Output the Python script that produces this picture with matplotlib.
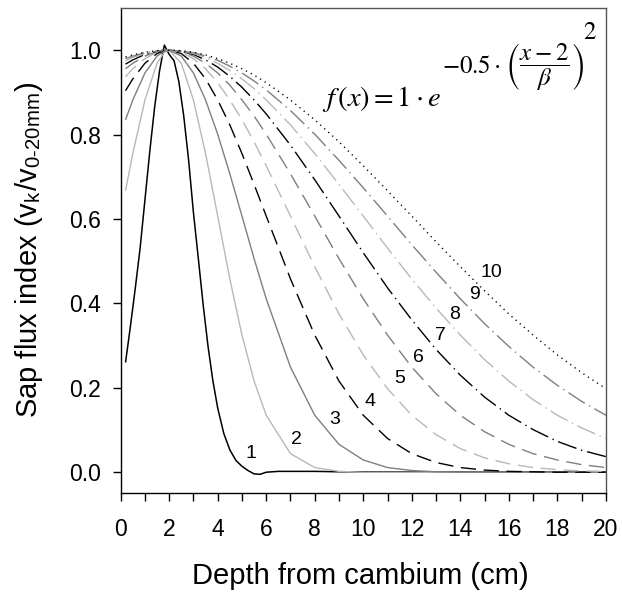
import matplotlib
matplotlib.use("Agg")
import matplotlib.pyplot as plt

plt.rcParams['font.family'] = ['Liberation Sans', 'DejaVu Sans']
plt.rcParams['mathtext.fontset'] = 'stix'
plt.rcParams['lines.scale_dashes'] = False

# Depth positions (cm) at which curves were read
depth = [0.2, 0.5, 1.0, 1.5, 1.8, 2.0, 2.5, 3.0, 3.5, 4.0, 4.5, 5.0, 5.5, 6.0,
         7, 8, 9, 10, 11, 12, 13, 14, 15, 16, 17, 18, 19, 20]
# Finer reading positions for the narrow curve (beta = 1)
depth_b1 = [0.2, 0.4, 0.6, 0.8, 1.0, 1.2, 1.4, 1.6, 1.8, 2.0, 2.2, 2.4, 2.6, 2.8, 3.0,
            3.2, 3.4, 3.6, 3.8, 4.0, 4.25, 4.5, 4.75, 5.0, 5.25, 5.5, 5.75, 6.0, 6.5,
            7, 8, 9, 10, 11, 12, 13, 14, 15, 16, 17, 18, 19, 20]

beta1 = [0.26, 0.345, 0.435, 0.53, 0.645, 0.76, 0.865, 0.95, 1.012, 0.99, 0.975, 0.925, 0.844, 0.74, 0.615,
         0.507, 0.397, 0.299, 0.217, 0.152, 0.092, 0.053, 0.028, 0.014, 0.004, -0.004, -0.005, 0.0, 0.002,
         0.002, 0.002, 0.001, 0.001, 0.001, 0.001, 0.001, 0.001, 0.001, 0.001, 0.001, 0.001, 0.001, 0.001]
beta2 = [0.667, 0.755, 0.882, 0.969, 0.995, 1.0, 0.969, 0.882, 0.755, 0.607, 0.458, 0.325, 0.216, 0.135,
         0.044, 0.011, 0.002, 0.0, 0.0, 0.0, 0.0, 0.0, 0.0, 0.0, 0.0, 0.0, 0.0, 0.0]
beta3 = [0.835, 0.882, 0.946, 0.986, 0.998, 1.0, 0.986, 0.946, 0.882, 0.801, 0.707, 0.607, 0.506, 0.411,
         0.249, 0.135, 0.066, 0.029, 0.011, 0.004, 0.001, 0.0, 0.0, 0.0, 0.0, 0.0, 0.0, 0.0]
beta4 = [0.904, 0.932, 0.969, 0.992, 0.999, 1.0, 0.992, 0.969, 0.932, 0.882, 0.823, 0.755, 0.682, 0.607,
         0.458, 0.325, 0.216, 0.135, 0.080, 0.044, 0.023, 0.011, 0.005, 0.002, 0.001, 0.0, 0.0, 0.0]
beta5 = [0.937, 0.956, 0.980, 0.995, 0.999, 1.0, 0.995, 0.980, 0.956, 0.923, 0.882, 0.835, 0.783, 0.726,
         0.607, 0.487, 0.375, 0.278, 0.198, 0.135, 0.089, 0.056, 0.034, 0.020, 0.011, 0.006, 0.003, 0.002]
beta6 = [0.956, 0.969, 0.986, 0.997, 0.999, 1.0, 0.997, 0.986, 0.969, 0.946, 0.917, 0.882, 0.844, 0.801,
         0.707, 0.607, 0.506, 0.411, 0.325, 0.249, 0.186, 0.135, 0.096, 0.066, 0.044, 0.029, 0.018, 0.011]
beta7 = [0.967, 0.977, 0.990, 0.997, 1.0, 1.0, 0.997, 0.990, 0.977, 0.960, 0.938, 0.912, 0.882, 0.849,
         0.775, 0.693, 0.607, 0.520, 0.437, 0.361, 0.291, 0.230, 0.178, 0.135, 0.101, 0.073, 0.052, 0.037]
beta8 = [0.975, 0.983, 0.992, 0.998, 1.0, 1.0, 0.998, 0.992, 0.983, 0.969, 0.952, 0.932, 0.909, 0.882,
         0.823, 0.755, 0.682, 0.607, 0.531, 0.458, 0.389, 0.325, 0.267, 0.216, 0.172, 0.135, 0.105, 0.080]
beta9 = [0.980, 0.986, 0.994, 0.998, 1.0, 1.0, 0.998, 0.994, 0.986, 0.976, 0.962, 0.946, 0.927, 0.906,
         0.857, 0.801, 0.739, 0.674, 0.607, 0.539, 0.474, 0.411, 0.352, 0.298, 0.249, 0.206, 0.168, 0.135]
beta10 = [0.984, 0.989, 0.995, 0.999, 1.0, 1.0, 0.999, 0.995, 0.989, 0.980, 0.969, 0.956, 0.941, 0.923,
          0.882, 0.835, 0.783, 0.726, 0.667, 0.607, 0.546, 0.487, 0.430, 0.375, 0.325, 0.278, 0.236, 0.198]

series = [beta1, beta2, beta3, beta4, beta5, beta6, beta7, beta8, beta9, beta10]
series_x = [depth_b1] + [depth] * 9
curve_labels = ['1', '2', '3', '4', '5', '6', '7', '8', '9', '10']
label_x = [5.36, 7.25, 8.83, 10.27, 11.51, 12.29, 13.18, 13.75, 14.57, 15.29]
label_y = [0.044, 0.078, 0.124, 0.167, 0.222, 0.272, 0.325, 0.373, 0.422, 0.473]

BLACK = '#000000'
LIGHT = '#b8b8b8'
GRAY = '#7f7f7f'
solid = (0, ())
longdash = (0, (11, 5.5))
dashdot = (0, (14, 3.5, 1, 3.5))
dotted = (0, (0.9, 3.0))
styles = [
    (BLACK, solid, 1.1), (LIGHT, solid, 1.0), (GRAY, solid, 1.0),
    (BLACK, longdash, 1.0), (LIGHT, longdash, 1.0), (GRAY, longdash, 1.0),
    (BLACK, dashdot, 1.0), (LIGHT, dashdot, 1.0), (GRAY, dashdot, 1.0),
    (BLACK, dotted, 1.0),
]

fig = plt.figure(figsize=(6.22, 5.96), dpi=100)
ax = fig.add_axes([0.194, 0.1723, 0.780, 0.8143])

for xs, vals, (c, ls, lw) in zip(series_x, series, styles):
    ax.plot(xs, vals, color=c, linestyle=ls, linewidth=lw)

for t, lx, ly in zip(curve_labels, label_x, label_y):
    ax.text(lx, ly, t, fontsize=14, ha='center', va='center')

# Formula annotation
ax.text(8.30, 0.884, r"$f\,(x) = 1\cdot e$", fontsize=20.5, ha='left', va='center')
ax.text(13.25, 0.962, r"$-0.5\cdot$", fontsize=18, ha='left', va='center')
ax.text(15.85, 0.962, r"$\left(\dfrac{x-2}{\beta}\right)$", fontsize=18, ha='left', va='center')
ax.text(19.05, 1.042, r"$2$", fontsize=18, ha='left', va='center')

ax.set_xlim(0, 20)
ax.set_ylim(-0.05, 1.10)
ax.set_xticks(range(0, 21, 2))
ax.set_xticks(range(1, 20, 2), minor=True)
ax.set_yticks([0.0, 0.2, 0.4, 0.6, 0.8, 1.0])
ax.set_yticklabels(['0.0', '0.2', '0.4', '0.6', '0.8', '1.0'])
ax.tick_params(axis='x', which='major', direction='out', length=6, width=1, labelsize=16.5, pad=12)
ax.tick_params(axis='x', which='minor', direction='out', length=6, width=1)
ax.tick_params(axis='y', which='major', direction='out', length=6, width=1, labelsize=16.5, pad=8)

for s in ['left', 'bottom']:
    ax.spines[s].set_color('black')
    ax.spines[s].set_linewidth(1.0)
for s in ['top', 'right']:
    ax.spines[s].set_color('#555555')
    ax.spines[s].set_linewidth(1.0)

fig.text(0.579, (596 - 576) / 596, "Depth from cambium (cm)", fontsize=21, ha='center', va='center')
fig.text(29 / 622, (596 - 250) / 596,
         r"Sap flux index (v$_\mathregular{k}$/v$_\mathregular{0\text{-}20mm}$)",
         fontsize=21, ha='center', va='center', rotation=90)

fig.savefig("out.png", dpi=100)
